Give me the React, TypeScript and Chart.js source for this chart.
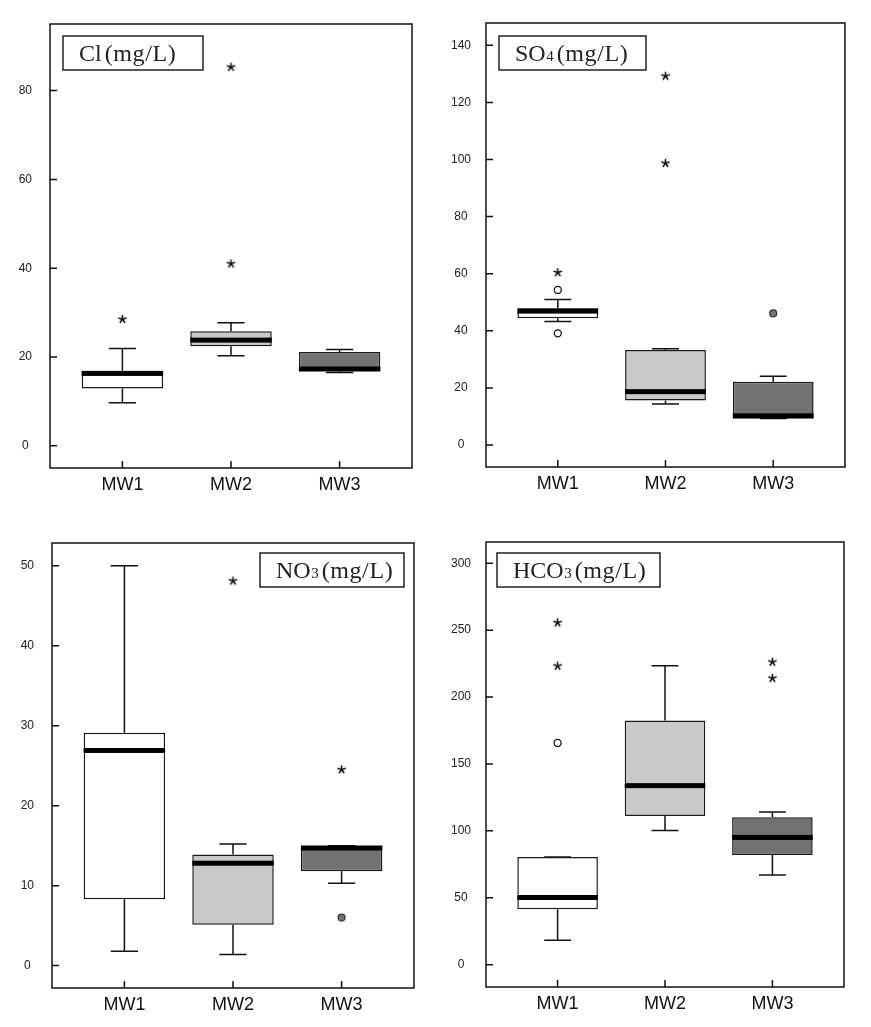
import React, { useEffect, useRef } from 'react';
import { Chart, registerables } from 'chart.js';

Chart.register(...registerables);

// ---------- data ----------
const categories = ['MW1', 'MW2', 'MW3'];

// Cl (mg/L)
const clMin = [9.7, 20.3, 16.5];
const clQ1 = [12.9, 22.4, 16.8];
const clMedian = [16.3, 23.8, 17.3];
const clQ3 = [16.9, 25.8, 21.1];
const clMax = [21.9, 27.7, 21.7];
const clStars = [[28.5], [41.0, 85.3], []];
const clCircles: number[][] = [[], [], []];
const clDots: number[][] = [[], [], []];
const clTicks = [0, 20, 40, 60, 80];
const clLabel = ['Cl', '', '(mg/L)'];

// SO4 (mg/L)
const so4Min = [43.3, 14.4, 9.3];
const so4Q1 = [44.4, 15.6, 9.3];
const so4Median = [46.9, 18.7, 10.2];
const so4Q3 = [47.9, 33.3, 22.2];
const so4Max = [51.0, 33.7, 24.1];
const so4Stars = [[60.4], [98.7, 129.2], []];
const so4Circles = [[54.3, 39.1], [], []];
const so4Dots = [[], [], [46.1]];
const so4Ticks = [0, 20, 40, 60, 80, 100, 120, 140];
const so4Label = ['SO', '4', '(mg/L)'];

// NO3 (mg/L)
const no3Min = [1.8, 1.4, 10.3];
const no3Q1 = [8.3, 5.1, 11.8];
const no3Median = [26.9, 12.8, 14.7];
const no3Q3 = [29.1, 13.9, 15.0];
const no3Max = [50.0, 15.2, 15.0];
const no3Stars = [[], [48.1], [24.5]];
const no3Circles: number[][] = [[], [], []];
const no3Dots = [[], [], [6.0]];
const no3Ticks = [0, 10, 20, 30, 40, 50];
const no3Label = ['NO', '3', '(mg/L)'];

// HCO3 (mg/L)
const hco3Min = [18.2, 100.2, 67.0];
const hco3Q1 = [41.4, 111.1, 82.0];
const hco3Median = [50.2, 133.8, 95.1];
const hco3Q3 = [80.5, 182.4, 110.2];
const hco3Max = [80.5, 223.5, 114.1];
const hco3Stars = [[223.2, 255.6], [], [214.1, 226.2]];
const hco3Circles = [[165.7], [], []];
const hco3Dots: number[][] = [[], [], []];
const hco3Ticks = [0, 50, 100, 150, 200, 250, 300];
const hco3Label = ['HCO', '3', '(mg/L)'];

// ---------- layout / style ----------
const boxColors = ['#ffffff', '#c9c9c9', '#727272'];
const SANS = '"Liberation Sans", Arial, Helvetica, sans-serif';
const SERIF = '"Liberation Serif", "Times New Roman", serif';
const AXIS_W = 50;
const PAD_TOP = 30;
const PAD_RIGHT = 10;
const XAXIS_H = 36;

type Panel = {
  frame: { l: number; t: number; r: number; b: number };
  yMin: number; yMax: number; yPad: number;
  ticks: number[];
  min: number[]; q1: number[]; median: number[]; q3: number[]; max: number[];
  stars: number[][]; circles: number[][]; dots: number[][];
  label: string[];
  legend: { dx: number; dy: number; w: number; h: number; fromRight: boolean };
};

const panels: Panel[] = [
  {
    frame: { l: 50, t: 24, r: 412, b: 468 }, yMin: -5, yMax: 95, yPad: 18,
    ticks: clTicks, min: clMin, q1: clQ1, median: clMedian, q3: clQ3, max: clMax,
    stars: clStars, circles: clCircles, dots: clDots, label: clLabel,
    legend: { dx: 13, dy: 12, w: 140, h: 34, fromRight: false },
  },
  {
    frame: { l: 486, t: 23, r: 845, b: 467 }, yMin: -7.7, yMax: 147.8, yPad: 15,
    ticks: so4Ticks, min: so4Min, q1: so4Q1, median: so4Median, q3: so4Q3, max: so4Max,
    stars: so4Stars, circles: so4Circles, dots: so4Dots, label: so4Label,
    legend: { dx: 13, dy: 13, w: 147, h: 34, fromRight: false },
  },
  {
    frame: { l: 52, t: 543, r: 414, b: 988 }, yMin: -2.8, yMax: 52.84, yPad: 18,
    ticks: no3Ticks, min: no3Min, q1: no3Q1, median: no3Median, q3: no3Q3, max: no3Max,
    stars: no3Stars, circles: no3Circles, dots: no3Dots, label: no3Label,
    legend: { dx: 10, dy: 10, w: 144, h: 34, fromRight: true },
  },
  {
    frame: { l: 486, t: 542, r: 844, b: 987 }, yMin: -16.7, yMax: 315.9, yPad: 15,
    ticks: hco3Ticks, min: hco3Min, q1: hco3Q1, median: hco3Median, q3: hco3Q3, max: hco3Max,
    stars: hco3Stars, circles: hco3Circles, dots: hco3Dots, label: hco3Label,
    legend: { dx: 11, dy: 11, w: 163, h: 34, fromRight: false },
  },
];

function makeAsterisk(): HTMLCanvasElement {
  const c = document.createElement('canvas');
  c.width = 11;
  c.height = 11;
  const ctx = c.getContext('2d')!;
  ctx.strokeStyle = '#111';
  ctx.lineWidth = 1.6;
  ctx.lineCap = 'round';
  const cx = 5.5, cy = 5.5, r = 3.8;
  for (let k = 0; k < 5; k++) {
    const a = -Math.PI / 2 + (k * 2 * Math.PI) / 5;
    ctx.beginPath();
    ctx.moveTo(cx, cy);
    ctx.lineTo(cx + r * Math.cos(a), cy + r * Math.sin(a));
    ctx.stroke();
  }
  return c;
}

const toPoints = (groups: number[][]) =>
  groups.flatMap((vals, i) => vals.map((v) => ({ x: i + 1, y: v })));

function makeBoxPlugin(p: Panel) {
  return {
    id: 'boxplotExtras',
    beforeDatasetsDraw(chart: any) {
      const ctx = chart.ctx;
      const y = chart.scales.y;
      const meta = chart.getDatasetMeta(0);
      ctx.save();
      ctx.strokeStyle = '#111';
      ctx.lineWidth = 1.5;
      meta.data.forEach((el: any, i: number) => {
        const bx = el.x;
        const cap = el.width / 3;
        const yq1 = y.getPixelForValue(p.q1[i]);
        const yq3 = y.getPixelForValue(p.q3[i]);
        const ymin = y.getPixelForValue(p.min[i]);
        const ymax = y.getPixelForValue(p.max[i]);
        ctx.beginPath();
        ctx.moveTo(bx, yq3);
        ctx.lineTo(bx, ymax);
        ctx.moveTo(bx - cap / 2, ymax);
        ctx.lineTo(bx + cap / 2, ymax);
        ctx.moveTo(bx, yq1);
        ctx.lineTo(bx, ymin);
        ctx.moveTo(bx - cap / 2, ymin);
        ctx.lineTo(bx + cap / 2, ymin);
        ctx.stroke();
      });
      ctx.restore();
    },
    afterDatasetsDraw(chart: any) {
      const ctx = chart.ctx;
      const y = chart.scales.y;
      const meta = chart.getDatasetMeta(0);
      ctx.save();
      ctx.fillStyle = '#000';
      meta.data.forEach((el: any, i: number) => {
        const ym = y.getPixelForValue(p.median[i]);
        ctx.fillRect(el.x - el.width / 2, ym - 2.5, el.width, 5);
      });
      ctx.restore();
    },
    afterDraw(chart: any) {
      const ctx = chart.ctx;
      const ca = chart.chartArea;
      const xs = chart.scales.x;
      const ys = chart.scales.y;
      ctx.save();
      // frame
      ctx.strokeStyle = '#111';
      ctx.lineWidth = 1.5;
      ctx.strokeRect(ca.left, ca.top, ca.right - ca.left, ca.bottom - ca.top);
      // inner tick marks
      ctx.beginPath();
      ys.ticks.forEach((t: any) => {
        const py = ys.getPixelForValue(t.value);
        ctx.moveTo(ca.left, py);
        ctx.lineTo(ca.left + 7, py);
      });
      xs.ticks.forEach((t: any) => {
        const px = xs.getPixelForValue(t.value);
        ctx.moveTo(px, ca.bottom);
        ctx.lineTo(px, ca.bottom - 7);
      });
      ctx.stroke();
      // legend box
      const lg = p.legend;
      const rx = lg.fromRight ? ca.right - lg.dx - lg.w : ca.left + lg.dx;
      const ry = ca.top + lg.dy;
      ctx.fillStyle = '#fff';
      ctx.fillRect(rx, ry, lg.w, lg.h);
      ctx.strokeStyle = '#222';
      ctx.lineWidth = 1.5;
      ctx.strokeRect(rx, ry, lg.w, lg.h);
      ctx.fillStyle = '#222';
      ctx.textBaseline = 'alphabetic';
      ctx.textAlign = 'left';
      const by = ry + lg.h / 2 + 8;
      let tx = rx + 16;
      ctx.font = `24px ${SERIF}`;
      ctx.fillText(p.label[0], tx, by);
      tx += ctx.measureText(p.label[0]).width;
      if (p.label[1]) {
        ctx.font = `15px ${SERIF}`;
        ctx.fillText(p.label[1], tx + 0.5, by);
        tx += ctx.measureText(p.label[1]).width + 0.5;
      }
      tx += 3;
      ctx.font = `24px ${SERIF}`;
      (ctx as any).letterSpacing = '0.6px';
      ctx.fillText(p.label[2], tx, by);
      ctx.restore();
    },
  };
}

function BoxPanel({ p }: { p: Panel }) {
  const ref = useRef<HTMLCanvasElement>(null);
  const W = p.frame.r - p.frame.l + AXIS_W + PAD_RIGHT;
  const H = p.frame.b - p.frame.t + PAD_TOP + XAXIS_H;

  useEffect(() => {
    const star = makeAsterisk();
    const chart = new Chart(ref.current!, {
      type: 'bar',
      data: {
        datasets: [
          {
            type: 'bar',
            data: categories.map((_, i) => ({ x: i + 1, y: [p.q1[i], p.q3[i]] })) as any,
            backgroundColor: boxColors,
            borderColor: '#1a1a1a',
            borderWidth: 1.5,
            borderSkipped: false,
            barPercentage: 0.75,
            categoryPercentage: 1,
          },
          {
            type: 'scatter',
            data: toPoints(p.stars),
            pointStyle: star as any,
            pointRadius: 4,
          } as any,
          {
            type: 'scatter',
            data: toPoints(p.circles),
            pointStyle: 'circle',
            pointRadius: 3.5,
            borderWidth: 1.3,
            borderColor: '#111',
            backgroundColor: '#ffffff',
          } as any,
          {
            type: 'scatter',
            data: toPoints(p.dots),
            pointStyle: 'circle',
            pointRadius: 3.5,
            borderWidth: 1.2,
            borderColor: '#333',
            backgroundColor: '#727272',
          } as any,
        ],
      },
      options: {
        animation: false,
        responsive: false,
        devicePixelRatio: 1,
        layout: { padding: { left: 0, top: PAD_TOP, right: PAD_RIGHT, bottom: 0 } },
        plugins: { legend: { display: false }, tooltip: { enabled: false } },
        scales: {
          x: {
            type: 'linear',
            min: 1 / 3,
            max: 11 / 3,
            offset: false,
            afterBuildTicks: (s: any) => {
              s.ticks = categories.map((_, i) => ({ value: i + 1 }));
            },
            afterFit: (s: any) => {
              s.height = XAXIS_H;
            },
            ticks: {
              callback: (v: any) => categories[Math.round(Number(v)) - 1] ?? '',
              autoSkip: false,
              maxRotation: 0,
              padding: 6,
              color: '#111',
              font: { family: SANS, size: 18 },
            },
            grid: { display: false, drawTicks: false },
            border: { display: false },
          },
          y: {
            type: 'linear',
            min: p.yMin,
            max: p.yMax,
            beginAtZero: false,
            afterBuildTicks: (s: any) => {
              s.ticks = p.ticks.map((v) => ({ value: v }));
            },
            afterFit: (s: any) => {
              s.width = AXIS_W;
            },
            ticks: {
              crossAlign: 'center',
              padding: p.yPad,
              color: '#222',
              font: { family: SANS, size: 12 },
            },
            grid: { display: false, drawTicks: false },
            border: { display: false },
          },
        },
      } as any,
      plugins: [makeBoxPlugin(p)],
    });
    return () => chart.destroy();
  }, [p]);

  return (
    <canvas
      ref={ref}
      width={W}
      height={H}
      style={{
        position: 'absolute',
        left: p.frame.l - AXIS_W,
        top: p.frame.t - PAD_TOP,
        width: W,
        height: H,
      }}
    />
  );
}

export default function App() {
  return (
    <div
      style={{
        position: 'absolute',
        left: 0,
        top: 0,
        width: 871,
        height: 1027,
        background: '#ffffff',
        overflow: 'hidden',
      }}
    >
      {panels.map((p, i) => (
        <BoxPanel key={i} p={p} />
      ))}
    </div>
  );
}
